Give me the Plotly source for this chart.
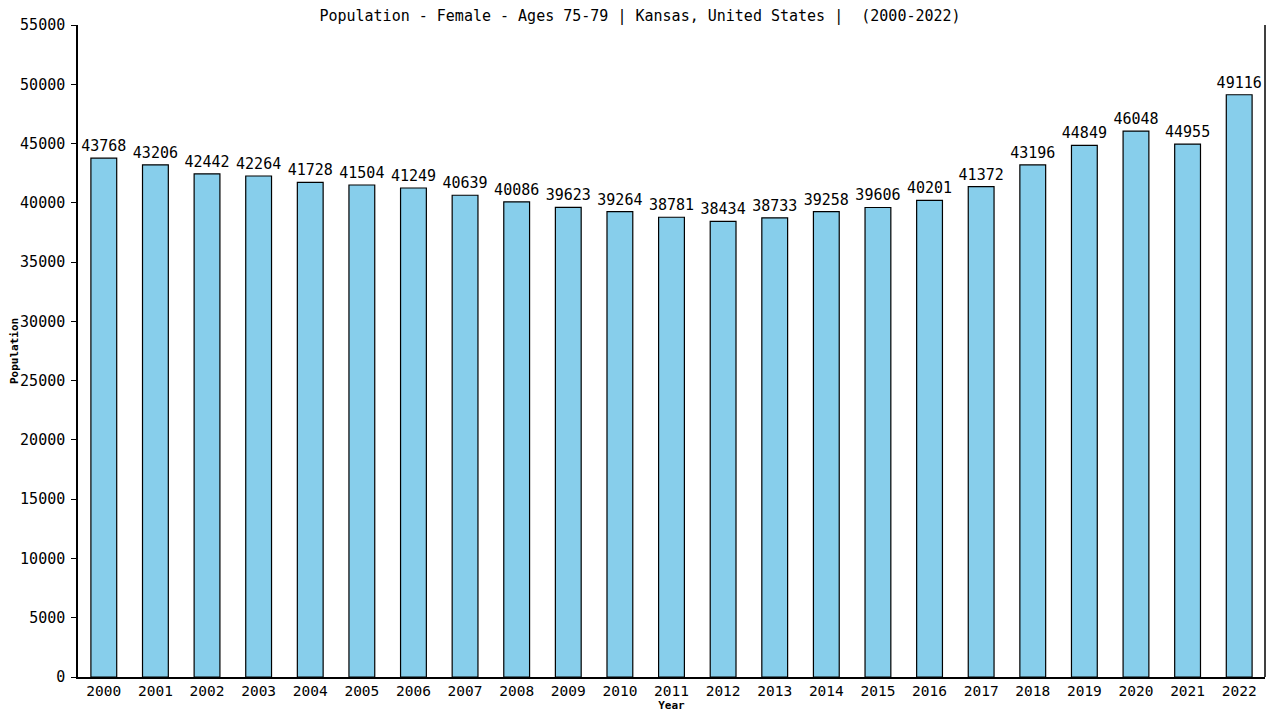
import plotly.graph_objects as go

years = [str(y) for y in range(2000, 2023)]
population = [43768, 43206, 42442, 42264, 41728, 41504, 41249, 40639, 40086, 39623,
              39264, 38781, 38434, 38733, 39258, 39606, 40201, 41372, 43196, 44849,
              46048, 44955, 49116]
y_ticks = list(range(0, 55001, 5000))

FONT = "DejaVu Sans Mono"

fig = go.Figure(go.Bar(
    x=years, y=population,
    text=[str(v) for v in population],
    textposition="outside",
    constraintext="none",
    textfont=dict(family=FONT, size=15, color="black"),
    cliponaxis=False,
    marker=dict(color="#87CEEB", line=dict(color="black", width=1.2)),
    width=0.5,
))

fig.update_layout(
    width=1264, height=704,
    paper_bgcolor="white", plot_bgcolor="white",
    margin=dict(l=70, r=7, t=17, b=35, autoexpand=False),
    title=dict(text="Population - Female - Ages 75-79 | Kansas, United States |  (2000-2022)",
               x=0.5, xanchor="center", y=0.997, yanchor="top", pad=dict(t=0),
               font=dict(family=FONT, size=15, color="black")),
    showlegend=False,
    font=dict(family=FONT, color="black"),
)
fig.update_xaxes(
    range=[-0.5, 22.5], automargin=False,
    showline=True, linecolor="black", linewidth=1.5,
    ticks="", tickfont=dict(family=FONT, size=14.5, color="black"),
    title=dict(text="<b>Year</b>", font=dict(family=FONT, size=11, color="black"), standoff=6),
    showgrid=False,
)
fig.update_yaxes(
    range=[0, 55000], automargin=False,
    tickvals=y_ticks, ticktext=[str(v) for v in y_ticks],
    showline=True, linecolor="black", linewidth=1.5,
    ticks="outside", ticklen=5, tickcolor="black",
    ticklabelstandoff=3,
    tickfont=dict(family=FONT, size=15, color="black"),
    title=dict(text="<b>Population</b>", font=dict(family=FONT, size=11, color="black"), standoff=4),
    showgrid=False, zeroline=False,
)
fig.add_shape(type="line", xref="paper", yref="paper", x0=1, x1=1, y0=0, y1=1,
              line=dict(color="black", width=1.5))

fig.write_html("out.html")
